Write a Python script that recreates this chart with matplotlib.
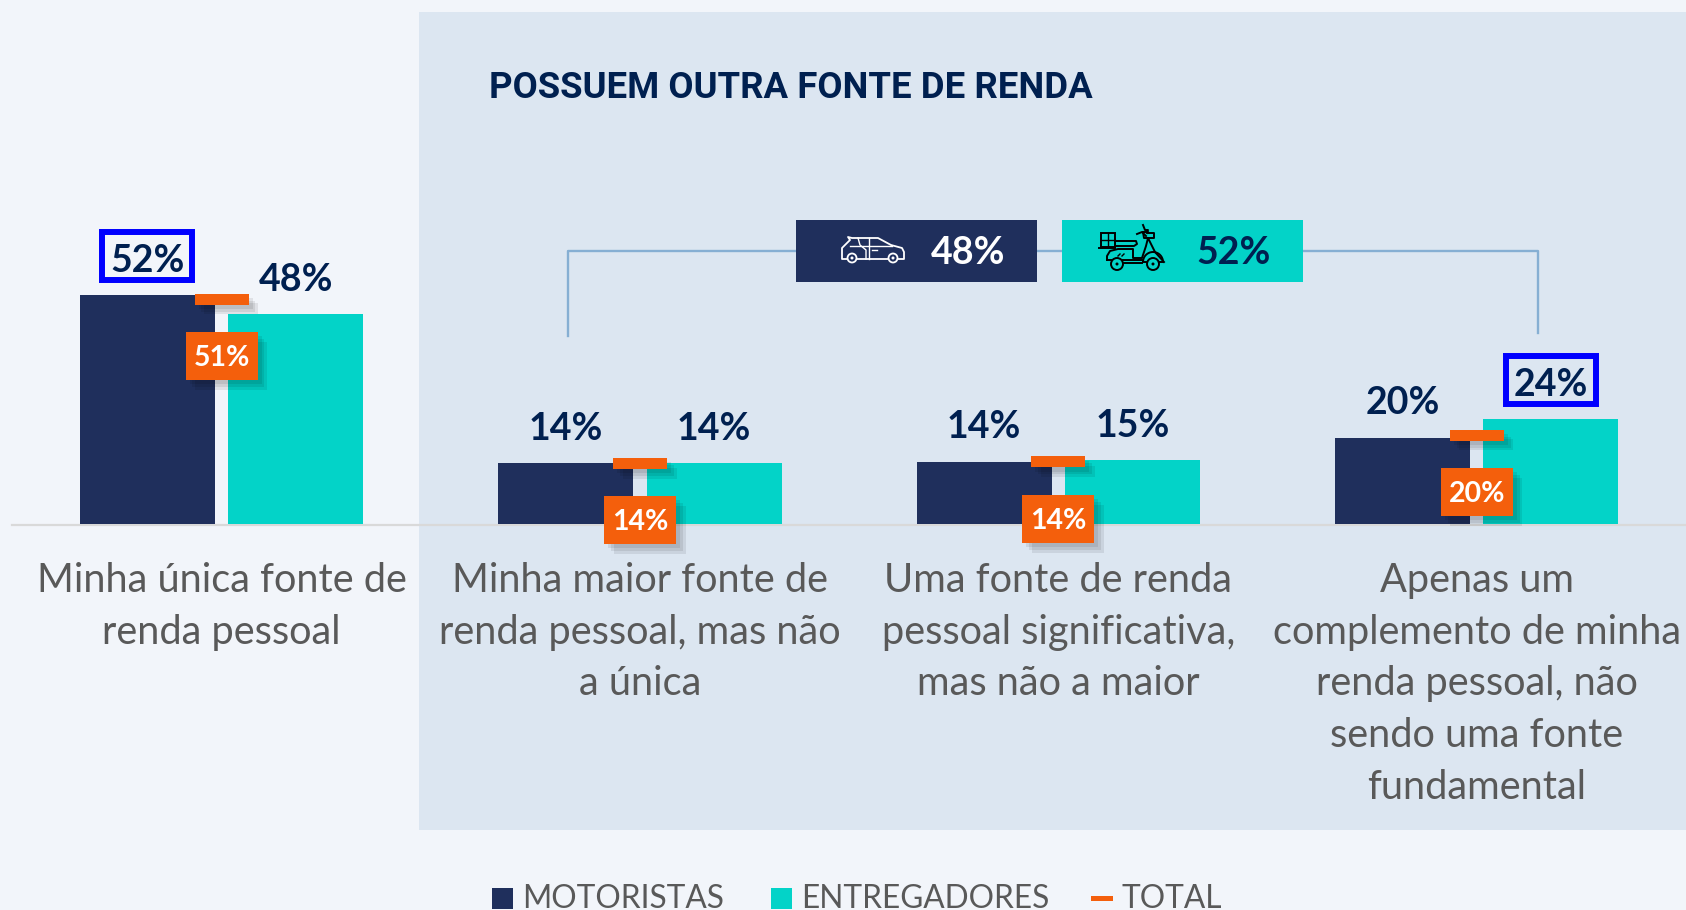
import matplotlib
matplotlib.use("Agg")
import matplotlib.pyplot as plt
import matplotlib.patheffects as pe
from matplotlib.patches import Rectangle, Circle, Arc

plt.rcParams["font.family"] = ["Lato", "DejaVu Sans"]

# dados
categorias = [
    "Minha única fonte de\nrenda pessoal",
    "Minha maior fonte de\nrenda pessoal, mas não\na única",
    "Uma fonte de renda\npessoal significativa,\nmas não a maior",
    "Apenas um\ncomplemento de minha\nrenda pessoal, não\nsendo uma fonte\nfundamental",
]
motoristas = [52.0, 13.8, 14.1, 19.6]
entregadores = [47.7, 13.8, 14.5, 23.8]
total = [51.1, 13.8, 14.1, 20.2]
rotulos_mot = ["52%", "14%", "14%", "20%"]
rotulos_ent = ["48%", "14%", "15%", "24%"]
rotulos_total = ["51%", "14%", "14%", "20%"]
destaques = [(0, "mot"), (3, "ent")]

NAVY = "#1F2F5C"
TEAL = "#03D3C8"
LARANJA = "#F45F0C"
TEXTO = "#002050"
CINZA = "#595959"
AZUL = "#0000FF"
LINHA = "#86AFD3"
W, H = 1686, 910
PX_X = 418.4   # pixels por categoria
PX_Y = 4.4     # pixels por ponto percentual
X0, Y0 = 221.5, 524

fig = plt.figure(figsize=(W / 100, H / 100), dpi=100, facecolor="#F2F5FA")


def eixo_pixels(z):
    a = fig.add_axes([0, 0, 1, 1], zorder=z)
    a.set_xlim(0, W)
    a.set_ylim(H, 0)
    a.axis("off")
    return a


fundo = eixo_pixels(0)
ax = fig.add_axes([0, 0, 1, 1], zorder=1)
ax.set_xlim(-X0 / PX_X, (W - X0) / PX_X)
ax.set_ylim(-(H - Y0) / PX_Y, Y0 / PX_Y)
ax.axis("off")
topo = eixo_pixels(2)

# painel e conector
fundo.add_patch(Rectangle((419, 12), W - 419, 818, color="#DCE6F1", lw=0))
fundo.plot([12, W], [524.5, 524.5], color="#D9D9D9", lw=1.6)
fundo.plot([568, 568, 800], [336, 251, 251], color=LINHA, lw=1.7)
fundo.plot([1290, 1538, 1538], [251, 251, 333], color=LINHA, lw=1.7)
fundo.plot([1036, 1062], [251, 251], color=LINHA, lw=1.7)

fundo.text(489, 88, "POSSUEM OUTRA FONTE DE RENDA", family="Roboto", fontsize=26.3,
           fontweight="bold", color=TEXTO, va="center", ha="left")

# barras
x = list(range(len(categorias)))
larg = 135 / PX_X
desl = 74.2 / PX_X
ax.bar([i - desl for i in x], motoristas, larg, color=NAVY)
ax.bar([i + desl for i in x], entregadores, larg, color=TEAL)


def rotulo(xv, yv, txt):
    ax.annotate(txt, (xv, yv), xytext=(0, 34.5 * 0.72), textcoords="offset points",
                ha="center", va="center", fontsize=27, fontweight="bold",
                color=TEXTO, zorder=5)


for i in x:
    rotulo(i - desl, motoristas[i], rotulos_mot[i])
    rotulo(i + desl, entregadores[i], rotulos_ent[i])
    ax.annotate(categorias[i], (i, 0), xytext=(0, -38 * 0.72), textcoords="offset points",
                ha="center", va="top", fontsize=28.6, color=CINZA, linespacing=1.49)

# caixas azuis de destaque
for i, serie in destaques:
    xv = i - desl if serie == "mot" else i + desl
    yv = motoristas[i] if serie == "mot" else entregadores[i]
    ax.add_patch(Rectangle((xv - 45 / PX_X, yv + 15 / PX_Y), 90 / PX_X, 48 / PX_Y,
                           fill=False, ec=AZUL, lw=4.3, zorder=6))

# marcador e caixa do total, com sombra
sombra = [pe.SimplePatchShadow(offset=(d, -d), shadow_rgbFace="#000000", alpha=0.08)
          for d in (7, 5, 3)] + [pe.Normal()]
for i in x:
    ax.add_patch(Rectangle((i - 27 / PX_X, total[i] - 5.5 / PX_Y), 54 / PX_X, 11 / PX_Y,
                           color=LARANJA, lw=0, zorder=7, path_effects=sombra))
    ax.add_patch(Rectangle((i - 36 / PX_X, total[i] - 81 / PX_Y), 72 / PX_X, 48 / PX_Y,
                           color=LARANJA, lw=0, zorder=7, path_effects=sombra))
    ax.text(i, total[i] - 59 / PX_Y, rotulos_total[i], ha="center", va="center",
            fontsize=20.5, fontweight="bold", color="white", zorder=8)

# caixas de cima
topo.add_patch(Rectangle((796, 220), 241, 62, color=NAVY, lw=0))
topo.add_patch(Rectangle((1062, 220), 241, 62, color=TEAL, lw=0))
topo.text(968, 253, "48%", ha="center", va="center", fontsize=27, fontweight="bold", color="white")
topo.text(1234, 253, "52%", ha="center", va="center", fontsize=27, fontweight="bold", color=TEXTO)

# carro
branco = dict(color="white", lw=1.3, solid_joinstyle="round")
topo.plot([847, 842, 842, 850, 848, 852, 878, 891, 902, 904, 904, 898],
          [259, 259, 248, 240, 237, 238, 238, 245, 248, 252, 259, 259], **branco)
topo.plot([857, 888], [259, 259], **branco)
topo.plot([850, 892], [245.5, 245.5], color="white", lw=1)
topo.plot([858, 860, 866, 866], [238, 245, 250, 259], color="white", lw=1)
topo.plot([869, 869], [238, 259], color="white", lw=1)
topo.plot([872, 877], [250, 250], color="white", lw=1)
for cx in (852, 893):
    topo.add_patch(Circle((cx, 258), 4.5, fc=NAVY, ec="white", lw=1.3, zorder=3))
    topo.add_patch(Circle((cx, 258), 1.5, fc="white", lw=0, zorder=3))

# moto
preto = dict(color="black", lw=1.4, solid_joinstyle="round")
topo.add_patch(Rectangle((1101, 233), 14, 14, fill=False, ec="black", lw=1.4))
topo.plot([1108, 1108], [233, 247], color="black", lw=1)
topo.plot([1101, 1115], [240, 240], color="black", lw=1)
topo.plot([1099, 1115], [248, 248], **preto)
topo.plot([1115, 1136, 1137, 1134, 1115], [241, 241, 244, 246, 246], **preto)
topo.plot([1107, 1107, 1110, 1118, 1133, 1133, 1142, 1146, 1148, 1155, 1164],
          [260, 256, 251, 249, 249, 258, 258, 246, 238, 252, 262], **preto)
topo.plot([1107, 1142], [260, 260], **preto)
topo.plot([1124, 1142], [263, 263], **preto)
topo.plot([1143, 1148, 1148, 1154, 1154, 1144, 1143], [232, 232, 233, 233, 238, 238, 232], **preto)
topo.plot([1143, 1145, 1148, 1147], [225, 230, 230, 233], **preto)
topo.plot([1137, 1142, 1146], [234, 232, 236], **preto)
topo.plot([1118, 1120], [256, 254], color="black", lw=1)
topo.plot([1122, 1124], [256, 254], color="black", lw=1)
topo.add_patch(Arc((1153, 262), 20, 20, theta1=180, theta2=360, ec="black", lw=1.4))
topo.plot([1143, 1163], [262, 262], **preto)
for cx in (1117, 1153):
    topo.add_patch(Circle((cx, 264), 6, fc=TEAL, ec="black", lw=1.4, zorder=3))
    topo.add_patch(Circle((cx, 264), 1.5, fc="black", lw=0, zorder=3))

# legenda
fundo.add_patch(Rectangle((492, 888), 21, 21, color=NAVY, lw=0))
fundo.add_patch(Rectangle((771, 888), 21, 21, color=TEAL, lw=0))
fundo.add_patch(Rectangle((1091, 896), 22, 5, color=LARANJA, lw=0))
for xt, txt in zip((522, 801, 1122), ("MOTORISTAS", "ENTREGADORES", "TOTAL")):
    fundo.text(xt, 908, txt, ha="left", va="baseline", fontsize=22.8, color=CINZA)

fig.savefig("out.png", dpi=100, facecolor=fig.get_facecolor())
